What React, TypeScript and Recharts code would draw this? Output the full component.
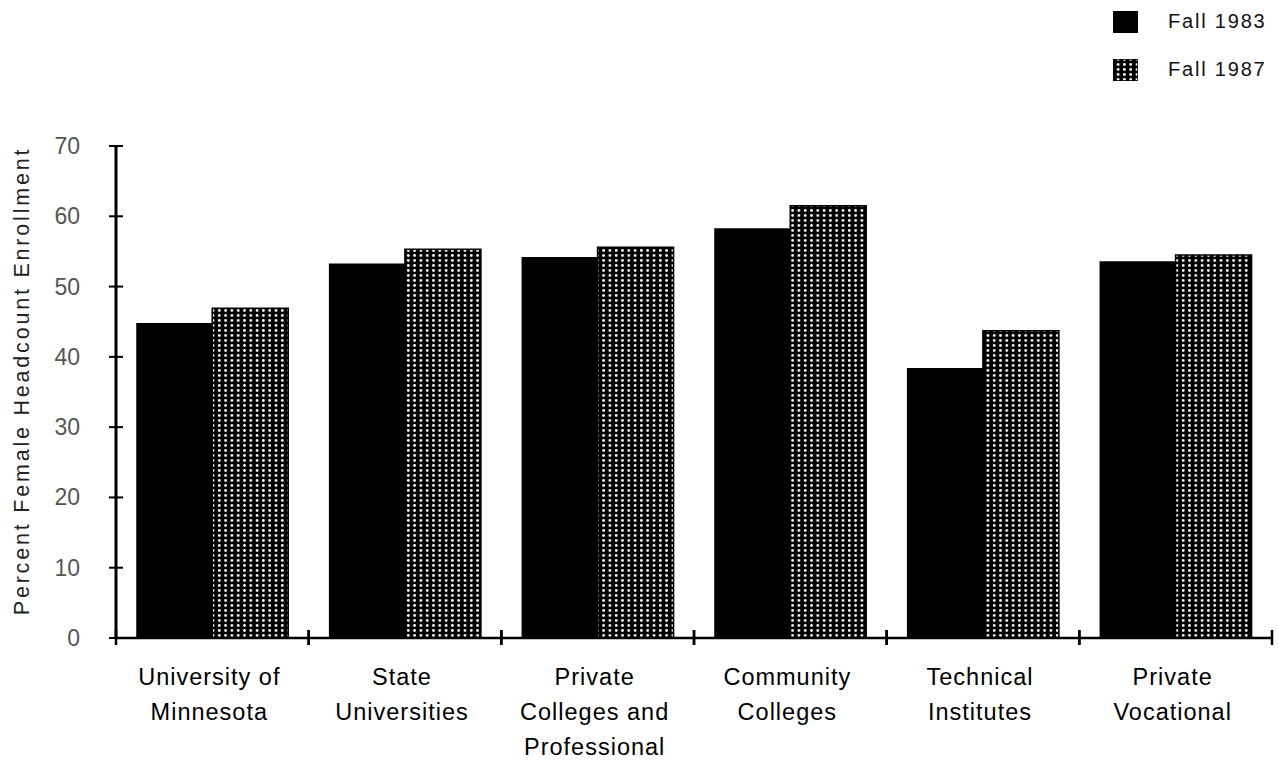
import React from 'react';
import { BarChart, Bar, XAxis, YAxis } from 'recharts';

const categories = [
    'University of\nMinnesota',
    'State\nUniversities',
    'Private\nColleges and\nProfessional',
    'Community\nColleges',
    'Technical\nInstitutes',
    'Private\nVocational',
];
const fall1983 = [44.8, 53.3, 54.2, 58.3, 38.4, 53.6];
const fall1987 = [46.9, 55.3, 55.6, 61.5, 43.7, 54.5];
const yTicks = [0, 10, 20, 30, 40, 50, 60, 70];
const seriesNames = ['Fall 1983', 'Fall 1987'];

const FONT = '"Liberation Sans", Arial, sans-serif';

const data = categories.map((name, i) => ({
    name,
    y1983: fall1983[i],
    y1987: fall1987[i],
}));

const DotPattern = ({ id }: { id: string }) => (
    <pattern id={id} width={6.3} height={5} patternUnits="userSpaceOnUse" x={2} y={3}>
        <rect width={6.3} height={5} fill="#000" />
        <ellipse cx={3.1} cy={2.5} rx={1.35} ry={1.45} fill="#fff" />
    </pattern>
);

const YTick = (props: any) => {
    const { x, y, payload } = props;
    return (
        <g>
            <line x1={x - 7} x2={x + 7} y1={y} y2={y} stroke="#000" strokeWidth={2} />
            <text x={x - 36} y={y} dy={8} textAnchor="end" fontSize={23} fill="#555" fontFamily={FONT}>
                {payload.value}
            </text>
        </g>
    );
};

const XTick = (props: any) => {
    const { x, y, payload } = props;
    const half = payload.offset || 96;
    const lines = String(payload.value).split('\n');
    return (
        <g>
            <line x1={x - half} x2={x - half} y1={y - 8} y2={y + 7} stroke="#000" strokeWidth={2.5} />
            <line x1={x + half} x2={x + half} y1={y - 8} y2={y + 7} stroke="#000" strokeWidth={2.5} />
            <text x={x - 3} y={y} textAnchor="middle" fontSize={23.5} fill="#000" fontFamily={FONT} letterSpacing={1}>
                {lines.map((t, i) => (
                    <tspan key={i} x={x - 3} dy={i === 0 ? 47 : 35}>{t}</tspan>
                ))}
            </text>
        </g>
    );
};

const YLabel = () => (
    <text
        x={29}
        y={381}
        transform="rotate(-90 29 381)"
        textAnchor="middle"
        fontSize={21.5}
        letterSpacing={2.8}
        fill="#222"
        fontFamily={FONT}
    >
        Percent Female Headcount Enrollment
    </text>
);

const App: React.FC = () => {
    return (
        <div style={{ position: 'absolute', left: 0, top: 0, width: 1278, height: 764, background: '#fff' }}>
            <BarChart
                width={1278}
                height={764}
                data={data}
                margin={{ top: 146, right: 6, left: 0, bottom: 0 }}
                barCategoryGap="10.5%"
                barGap={0}
            >
                <defs>
                    <DotPattern id="dots1987" />
                </defs>
                <XAxis
                    dataKey="name"
                    height={126}
                    interval={0}
                    tickSize={0}
                    tickMargin={0}
                    axisLine={{ stroke: '#000', strokeWidth: 2.5 }}
                    tick={<XTick />}
                />
                <YAxis
                    width={116}
                    domain={[0, 70]}
                    ticks={yTicks}
                    tickSize={0}
                    tickMargin={0}
                    axisLine={{ stroke: '#000', strokeWidth: 3 }}
                    tick={<YTick />}
                    label={{ content: () => <YLabel /> }}
                />
                <Bar dataKey="y1983" name={seriesNames[0]} fill="#000" isAnimationActive={false} />
                <Bar dataKey="y1987" name={seriesNames[1]} fill="url(#dots1987)" stroke="#000" strokeWidth={1.5} isAnimationActive={false} />
            </BarChart>
            <div style={{ position: 'absolute', left: 1113, top: 10, fontFamily: FONT }}>
                {seriesNames.map((s, i) => (
                    <div key={s} style={{ display: 'flex', alignItems: 'center', height: 23, marginBottom: 25 }}>
                        <svg width={25} height={22} style={{ display: 'block' }}>
                            <defs>
                                <DotPattern id={`legendDots${i}`} />
                            </defs>
                            <rect x={0} y={0} width={25} height={22} fill={i === 0 ? '#000' : `url(#legendDots${i})`} stroke="#000" strokeWidth={1.5} />
                        </svg>
                        <span style={{ marginLeft: 30, fontSize: 20, letterSpacing: 1.8, color: '#111', whiteSpace: 'nowrap' }}>{s}</span>
                    </div>
                ))}
            </div>
        </div>
    );
};

export default App;
